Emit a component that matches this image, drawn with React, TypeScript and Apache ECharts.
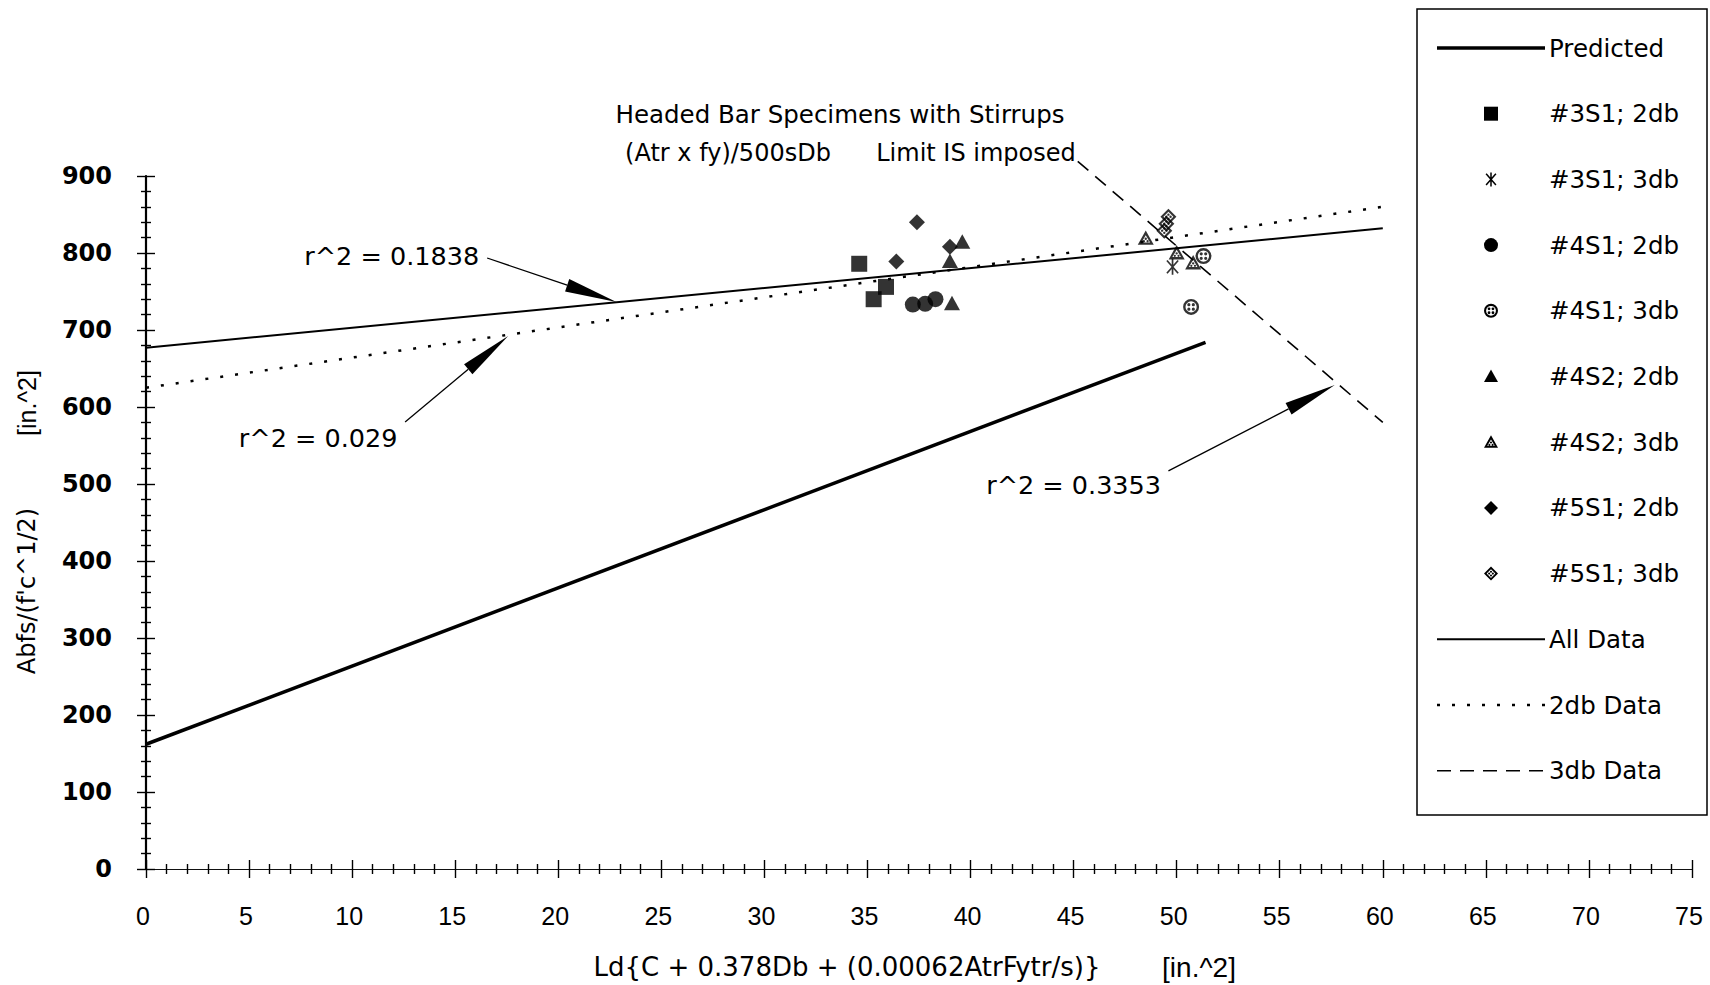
import React, { useEffect, useRef } from "react";
import * as echarts from "echarts";

// ---------- data ----------
const predicted = [[0, 162], [51.4, 684]];
const allDataFit = [[0, 677], [60, 832]];
const fit2db = [[0, 625], [60, 860]];
const fit3db = [[45.2, 919], [60, 580]];

const s3S1_2db = [[34.6, 786], [35.3, 740], [35.9, 756]];
const s3S1_3db = [[49.8, 782]];
const s4S1_2db = [[37.2, 733], [37.8, 734], [38.3, 740]];
const s4S1_3db = [[51.3, 796], [50.7, 730]];
const s4S2_2db = [[39.6, 815], [39.0, 790], [39.1, 735]];
const s4S2_3db = [[48.5, 820], [50.0, 801], [50.8, 788]];
const s5S1_2db = [[37.4, 840], [36.4, 789], [39.0, 808]];
const s5S1_3db = [[49.6, 847], [49.5, 838], [49.4, 829]];

const scatterNames = ["#3S1; 2db", "#3S1; 3db", "#4S1; 2db", "#4S1; 3db", "#4S2; 2db", "#4S2; 3db", "#5S1; 2db", "#5S1; 3db"];
const scatterData = [s3S1_2db, s3S1_3db, s4S1_2db, s4S1_3db, s4S2_2db, s4S2_3db, s5S1_2db, s5S1_3db];
const lineNames = ["Predicted", "All Data", "2db Data", "3db Data"];

const r2Labels = ["r^2 = 0.1838", "r^2 = 0.029", "r^2 = 0.3353"];
const r2LabelAt = [[11.92, 796], [8.35, 560], [45.0, 499]];
const r2ArrowFrom = [[16.55, 793.5], [12.57, 580.5], [49.6, 517]];
const r2ArrowTo = [[22.82, 736.4], [17.57, 692.2], [57.67, 628.6]];

// ---------- marker shapes ----------
const circ = (cx: number, cy: number, r: number, cw = true) =>
  cw
    ? `M${cx},${cy - r}A${r},${r} 0 1,1 ${cx},${cy + r}A${r},${r} 0 1,1 ${cx},${cy - r}Z`
    : `M${cx},${cy - r}A${r},${r} 0 1,0 ${cx},${cy + r}A${r},${r} 0 1,0 ${cx},${cy - r}Z`;

const SHAPES: Record<string, string> = {
  square: "M-10,-10L10,-10L10,10L-10,10Z",
  aster: "M0,-10L0,10M-7,-8L7,8M-7,8L7,-8",
  circle: circ(0, 0, 10),
  dotcircle: circ(0, 0, 10) + circ(0, 0, 7, false) + circ(-2.8, -2.8, 2) + circ(2.8, -2.8, 2) + circ(-2.8, 2.8, 2) + circ(2.8, 2.8, 2),
  triangle: "M0,-10L10,8L-10,8Z",
  dottriangle: "M0,-10L10,8L-10,8ZM0,-4L-5.4,5L5.4,5Z" + circ(0, 0.4, 1.5) + circ(-2.3, 3.5, 1.4) + circ(2.3, 3.5, 1.4),
  diamond: "M0,-10L10,0L0,10L-10,0Z",
  dotdiamond: "M0,-10L10,0L0,10L-10,0ZM0,-6.2L-6.2,0L0,6.2L6.2,0Z" + circ(0, -2.7, 1.5) + circ(2.7, 0, 1.5) + circ(0, 2.7, 1.5) + circ(-2.7, 0, 1.5),
};
const scatterShape = ["square", "aster", "circle", "dotcircle", "triangle", "dottriangle", "diamond", "dotdiamond"];

Object.keys(SHAPES).forEach((k) => {
  echarts.graphic.registerShape("mk_" + k, echarts.graphic.extendPath(SHAPES[k], {}) as any);
});

const TXT = '"DejaVu Sans", sans-serif';
const HELV = '"Liberation Sans", Arial, sans-serif';

export default function App() {
  const ref = useRef<HTMLDivElement>(null);
  useEffect(() => {
    const el = ref.current!;
    const chart = echarts.init(el, null, { renderer: "svg" });

    const tickStyle = { color: "#000", width: 1.4 };
    const xBase = {
      type: "value", min: 0, max: 75, interval: 5, position: "bottom",
      splitLine: { show: false },
      minorTick: { show: true, splitNumber: 5, length: 5, lineStyle: tickStyle },
    };
    const yBase = {
      type: "value", min: 0, max: 900, interval: 100, position: "left",
      splitLine: { show: false },
      minorTick: { show: true, splitNumber: 5, length: 5, lineStyle: tickStyle },
    };

    const lineStyles = [
      { color: "#000", width: 3.5, type: "solid" },
      { color: "#000", width: 2, type: "solid" },
      { color: "#000", width: 2.5, type: [3, 12] },
      { color: "#000", width: 1.6, type: [14, 9] },
    ];
    const lineData = [predicted, allDataFit, fit2db, fit3db];

    const series: any[] = [];
    lineData.forEach((d, i) => {
      series.push({
        type: "line", name: lineNames[i], data: d, symbol: "none", showSymbol: false,
        lineStyle: lineStyles[i], clip: false, z: 2, silent: true,
      });
    });
    scatterData.forEach((d, i) => {
      const shape = scatterShape[i];
      series.push({
        type: "scatter", name: scatterNames[i], data: d,
        symbol: "path://" + SHAPES[shape], symbolSize: 16, symbolKeepAspect: true,
        itemStyle: shape === "aster"
          ? { color: "transparent", borderColor: "#000", borderWidth: 1.7 }
          : { color: "#000" },
        z: 3,
      });
    });

    chart.setOption({
      animation: false,
      backgroundColor: "#fff",
      grid: { left: 146, right: 18, top: 176, bottom: 116, containLabel: false },
      xAxis: [
        {
          ...xBase,
          axisLine: { show: true, onZero: false, lineStyle: { color: "#111", width: 1.2 } },
          axisTick: { show: true, length: 9, lineStyle: tickStyle },
          axisLabel: { margin: 34, fontSize: 25, color: "#000", fontFamily: HELV, padding: [0, 6, 0, 0] },
        },
        {
          ...xBase,
          axisLine: { show: false },
          axisTick: { show: true, inside: true, length: 9, lineStyle: tickStyle },
          axisLabel: { show: false },
        },
      ],
      yAxis: [
        {
          ...yBase,
          axisLine: { show: true, onZero: false, lineStyle: { color: "#000", width: 2.2 } },
          axisTick: { show: true, length: 9, lineStyle: tickStyle },
          axisLabel: { margin: 34, fontSize: 24, fontWeight: "bold", color: "#000", fontFamily: TXT },
        },
        {
          ...yBase,
          axisLine: { show: false },
          axisTick: { show: true, inside: true, length: 9, lineStyle: tickStyle },
          axisLabel: { show: false },
        },
      ],
      series,
    });

    const px = (p: number[]) => chart.convertToPixel({ gridIndex: 0 }, p) as number[];
    const graphics: any[] = [];

    const txt = (text: string, x: number, y: number, size: number, family = TXT, rot = 0) => ({
      type: "text", x, y, rotation: rot, silent: true,
      style: { text, fontSize: size, fontFamily: family, fill: "#000", align: "center", verticalAlign: "middle" },
    });
    graphics.push(txt("Headed Bar Specimens with Stirrups", 840, 114, 24.5));
    graphics.push(txt("(Atr x fy)/500sDb", 728, 153, 24));
    graphics.push(txt("Limit IS imposed", 976, 153, 24));
    graphics.push(txt("Ld{C + 0.378Db + (0.00062AtrFytr/s)}", 847, 967, 26));
    graphics.push(txt("[in.^2]", 1199, 967, 28, HELV));
    graphics.push(txt("Abfs/(f'c^1/2)", 27, 591, 24, TXT, Math.PI / 2));
    graphics.push(txt("[in.^2]", 27, 403, 25, HELV, Math.PI / 2));

    // r^2 annotations with arrows
    r2Labels.forEach((label, i) => {
      const c = px(r2LabelAt[i]);
      graphics.push(txt(label, c[0], c[1], 25.5));
      const s = px(r2ArrowFrom[i]);
      const t = px(r2ArrowTo[i]);
      const dx = t[0] - s[0], dy = t[1] - s[1];
      const len = Math.hypot(dx, dy);
      const ux = dx / len, uy = dy / len;
      const L = 52, W = 6.5;
      const bx = t[0] - ux * L, by = t[1] - uy * L;
      graphics.push({ type: "line", silent: true, shape: { x1: s[0], y1: s[1], x2: bx, y2: by }, style: { stroke: "#000", lineWidth: 1.3 } });
      graphics.push({
        type: "polygon", silent: true,
        shape: { points: [[t[0], t[1]], [bx - uy * W, by + ux * W], [bx + uy * W, by - ux * W]] },
        style: { fill: "#000" },
      });
    });

    // legend box
    const LX = 1417, LY = 9, LW = 290, LH = 806;
    graphics.push({ type: "rect", silent: true, shape: { x: LX, y: LY, width: LW, height: LH }, style: { fill: "#fff", stroke: "#000", lineWidth: 1.5 } });
    const legendNames = [lineNames[0], ...scatterNames, lineNames[1], lineNames[2], lineNames[3]];
    const step = 65.7;
    legendNames.forEach((name, i) => {
      const y = 48 + i * step;
      if (i === 0 || i >= 9) {
        const li = i === 0 ? 0 : i - 8;
        const ls = lineStyles[li];
        graphics.push({
          type: "line", silent: true,
          shape: { x1: 1437, y1: y, x2: 1545, y2: y },
          style: { stroke: "#000", lineWidth: ls.width, lineDash: Array.isArray(ls.type) ? ls.type : null },
        });
      } else {
        const shape = scatterShape[i - 1];
        const sc = 0.7;
        graphics.push({
          type: "mk_" + shape, silent: true, x: 1491, y, scaleX: sc, scaleY: sc,
          style: shape === "aster" ? { fill: "none", stroke: "#000", lineWidth: 1.5 / sc } : { fill: "#000" },
        });
      }
      graphics.push({
        type: "text", silent: true, x: 1549, y,
        style: { text: name, fontSize: 24.5, fontFamily: TXT, fill: "#000", align: "left", verticalAlign: "middle" },
      });
    });

    chart.setOption({ graphic: graphics });

    return () => chart.dispose();
  }, []);
  return (
    <div
      ref={ref}
      style={{ position: "fixed", left: 0, top: 0, width: 1710, height: 985, background: "#fff" }}
    />
  );
}
